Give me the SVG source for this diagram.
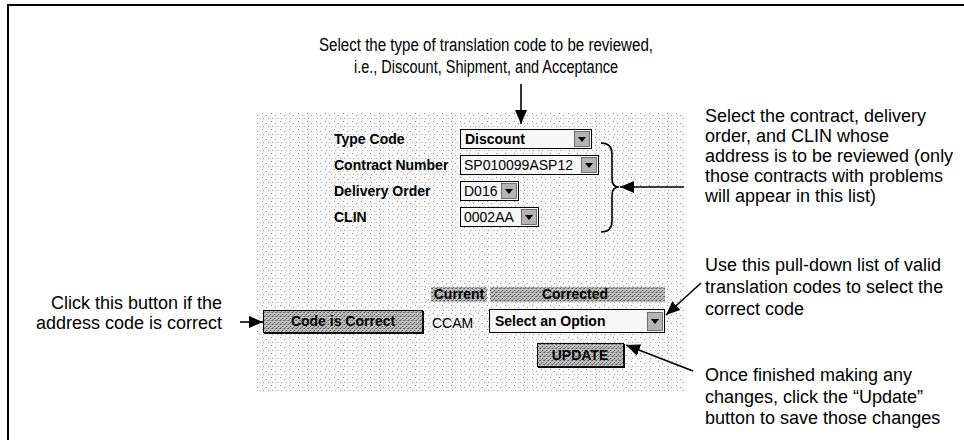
<svg xmlns="http://www.w3.org/2000/svg" width="964" height="440" viewBox="0 0 964 440">
<style>
.note{font-family:"Liberation Sans",Arial,sans-serif;font-size:18px;fill:#000}
.lbl{font-family:"Liberation Sans",Arial,sans-serif;font-size:14px;font-weight:bold;fill:#000}
.val{font-family:"Liberation Sans",Arial,sans-serif;font-size:14px;fill:#000}
.box{fill:#f7f7f7;stroke:#000;stroke-width:1}
.btn{fill:url(#dark);stroke:#000;stroke-width:1}
.hdr{fill:url(#dark)}
.ddb{fill:#b4b4b4;stroke:#555;stroke-width:0.8}
.tri{fill:#000}
.conn{stroke:#000;stroke-width:1.6;fill:none}
</style>
<defs>
<pattern id="dith" width="9" height="8" patternUnits="userSpaceOnUse">
<rect width="9" height="8" fill="#f8f8f8"/>
<rect x="1" y="1" width="1" height="1" fill="#8a8a8a"/>
<rect x="5" y="3" width="1" height="1" fill="#9a9a9a"/>
<rect x="2" y="6" width="1" height="1" fill="#a8a8a8"/>
<rect x="7" y="6" width="1" height="1" fill="#b8b8b8"/>
</pattern>
<pattern id="dark" width="4" height="4" patternUnits="userSpaceOnUse">
<rect width="4" height="4" fill="#bdbdbd"/>
<rect x="0" y="0" width="1" height="1" fill="#555"/>
<rect x="2" y="2" width="1" height="1" fill="#555"/>
<rect x="3" y="0" width="1" height="1" fill="#777"/>
<rect x="1" y="3" width="1" height="1" fill="#777"/>
</pattern>
<marker id="ah" markerWidth="16" markerHeight="12" refX="14" refY="6" orient="auto" markerUnits="userSpaceOnUse">
<path d="M0,0 L14,6 L0,12 Z" fill="#000"/>
</marker>
</defs>

<g id="frame">
<line x1="8" y1="5" x2="964" y2="5" stroke="#000" stroke-width="2"/>
<line x1="8" y1="4" x2="8" y2="440" stroke="#000" stroke-width="2"/>
</g>

<g id="panel">
<rect x="257" y="112" width="427" height="280" fill="url(#dith)"/>
</g>

<g id="note-type">
<text class="note" x="486" y="51" text-anchor="middle" textLength="334" lengthAdjust="spacingAndGlyphs">Select the type of translation code to be reviewed,</text>
<text class="note" x="486" y="73" text-anchor="middle" textLength="264" lengthAdjust="spacingAndGlyphs">i.e., Discount, Shipment, and Acceptance</text>
</g>

<g id="note-contract">
<text class="note" x="705" y="122">Select the contract, delivery</text>
<text class="note" x="705" y="142">order, and CLIN whose</text>
<text class="note" x="705" y="162">address is to be reviewed (only</text>
<text class="note" x="705" y="182">those contracts with problems</text>
<text class="note" x="705" y="202">will appear in this list)</text>
</g>

<g id="note-pulldown">
<text class="note" x="705" y="271">Use this pull-down list of valid</text>
<text class="note" x="705" y="293">translation codes to select the</text>
<text class="note" x="705" y="315">correct code</text>
</g>

<g id="note-update">
<text class="note" x="705" y="381">Once finished making any</text>
<text class="note" x="705" y="403">changes, click the “Update”</text>
<text class="note" x="705" y="424">button to save those changes</text>
</g>

<g id="note-correct">
<text class="note" x="222" y="309" text-anchor="end">Click this button if the</text>
<text class="note" x="222" y="329" text-anchor="end">address code is correct</text>
</g>

<g id="row-type">
<text class="lbl" x="334" y="144">Type Code</text>
<rect class="box" x="460.5" y="129.5" width="131" height="19"/>
<text class="lbl" x="465" y="144">Discount</text>
<rect class="ddb" x="574.5" y="131.5" width="15" height="15"/>
<path class="tri" d="M578,137 L586,137 L582,142 Z"/>
</g>

<g id="row-contract">
<text class="lbl" x="334" y="170">Contract Number</text>
<rect class="box" x="460.5" y="155.5" width="138" height="19"/>
<text class="val" x="464" y="170">SP010099ASP12</text>
<rect class="ddb" x="581.5" y="157.5" width="15" height="15"/>
<path class="tri" d="M585,163 L593,163 L589,168 Z"/>
</g>

<g id="row-delivery">
<text class="lbl" x="334" y="196">Delivery Order</text>
<rect class="box" x="460.5" y="181.5" width="58" height="19"/>
<text class="val" x="464" y="196">D016</text>
<rect class="ddb" x="501.5" y="183.5" width="15" height="15"/>
<path class="tri" d="M505,189 L513,189 L509,194 Z"/>
</g>

<g id="row-clin">
<text class="lbl" x="334" y="222">CLIN</text>
<rect class="box" x="460.5" y="207.5" width="78" height="19"/>
<text class="val" x="464" y="222">0002AA</text>
<rect class="ddb" x="521.5" y="209.5" width="15" height="15"/>
<path class="tri" d="M525,215 L533,215 L529,220 Z"/>
</g>

<g id="header">
<rect class="hdr" x="431" y="287" width="56" height="15"/>
<text class="lbl" x="459" y="299" text-anchor="middle" font-size="13">Current</text>
<rect class="hdr" x="490" y="287" width="175" height="15"/>
<text class="lbl" x="575" y="299" text-anchor="middle" font-size="13">Corrected</text>
</g>

<g id="btn-correct">
<rect class="btn" x="263.5" y="310.5" width="159" height="22"/>
<path d="M264,333 L423,333 L423,311" stroke="#000" stroke-width="2" fill="none"/>
<text class="lbl" x="343" y="326" text-anchor="middle">Code is Correct</text>
</g>

<g id="current-value">
<text class="val" x="432" y="328" font-size="17.5">CCAM</text>
</g>

<g id="select-corrected">
<rect class="box" x="489.5" y="309.5" width="175" height="23"/>
<text class="lbl" x="495" y="326">Select an Option</text>
<rect class="ddb" x="647.5" y="312.5" width="15" height="18"/>
<path class="tri" d="M651,319 L659,319 L655,324 Z"/>
</g>

<g id="btn-update">
<rect class="btn" x="537.5" y="343.5" width="86" height="23"/>
<path d="M538,367 L624,367 L624,344" stroke="#000" stroke-width="2" fill="none"/>
<text class="lbl" x="580" y="360" text-anchor="middle">UPDATE</text>
</g>

<g id="connectors">
<line class="conn" x1="521" y1="84" x2="521" y2="124" marker-end="url(#ah)"/>
<path class="conn" d="M601,143 Q612,143 612,154 L612,179 Q612,187 619,187 Q612,187 612,195 L612,221 Q612,232 601,232"/>
<line class="conn" x1="684" y1="187" x2="620" y2="187" marker-end="url(#ah)"/>
<line class="conn" x1="240" y1="322" x2="263" y2="322" marker-end="url(#ah)"/>
<line class="conn" x1="701" y1="283" x2="666" y2="315" marker-end="url(#ah)"/>
<line class="conn" x1="693" y1="371" x2="626" y2="345" marker-end="url(#ah)"/>
</g>
</svg>
